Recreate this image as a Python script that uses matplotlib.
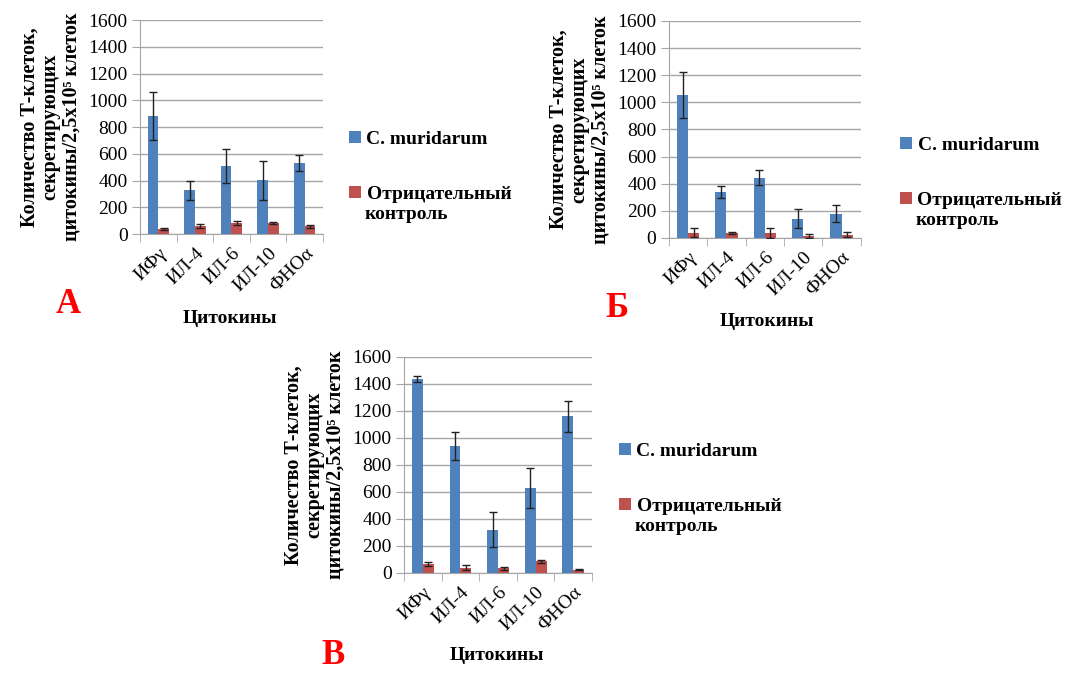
import matplotlib
matplotlib.use("Agg")
import matplotlib.pyplot as plt
import numpy as np

plt.rcParams["font.family"] = ["Liberation Serif", "DejaVu Serif"]

# ---------------------------------------------------------------------------
# Data
# ---------------------------------------------------------------------------
cytokines = ["ИФγ", "ИЛ-4", "ИЛ-6", "ИЛ-10", "ФНОα"]

a_mur = [880, 328, 509, 401, 529]
a_mur_err = [180, 72, 125, 145, 60]
a_neg = [38, 63, 83, 85, 58]
a_neg_err = [10, 15, 12, 8, 12]

b_mur = [1052, 336, 444, 143, 180]
b_mur_err = [170, 45, 55, 70, 65]
b_neg = [40, 37, 37, 17, 25]
b_neg_err = [30, 10, 35, 15, 18]

c_mur = [1440, 940, 319, 631, 1161]
c_mur_err = [22, 103, 130, 150, 115]
c_neg = [66, 39, 34, 86, 25]
c_neg_err = [18, 18, 10, 12, 5]

BLUE = "#4F81BD"
RED = "#C0504D"
GRID = "#A6A6A6"
FS = 14

fig = plt.figure(figsize=(10.72, 6.76), dpi=100)


def to_fig(px, py):
    return px / 1072, 1 - py / 676


def panel(rect, mur, mur_err, neg, neg_err, letter, letter_xy, xlabel_xy, legend_xy):
    ax = fig.add_axes(rect)
    x = np.arange(len(cytokines))
    w = 0.29
    ekw = dict(ecolor="#222222", elinewidth=1, capthick=1)
    ax.bar(x - w / 2, mur, w, color=BLUE, yerr=mur_err, capsize=3,
           error_kw=ekw, zorder=3, label="C. muridarum")
    ax.bar(x + w / 2, neg, w, color=RED, yerr=neg_err, capsize=3,
           error_kw=ekw, zorder=3, label="Отрицательный")
    ax.set_xlim(-0.5, len(cytokines) - 0.5)
    ax.set_ylim(0, 1600)
    ax.set_yticks(np.arange(0, 1601, 200))
    ax.yaxis.grid(True, color=GRID, linewidth=1, zorder=0)
    ax.set_axisbelow(True)
    for s in ["top", "right"]:
        ax.spines[s].set_visible(False)
    for s in ["left", "bottom"]:
        ax.spines[s].set_color(GRID)
    ax.tick_params(axis="y", length=6, color=GRID, labelsize=FS, pad=3)
    ax.set_xticks(x)
    ax.set_xticklabels(cytokines, rotation=45, ha="right", rotation_mode="anchor",
                       fontsize=FS)
    ax.tick_params(axis="x", which="major", length=0, pad=8)
    ax.set_xticks(np.arange(-0.5, len(cytokines)), minor=True)
    ax.tick_params(axis="x", which="minor", length=6, color=GRID)
    ax.set_ylabel("Количество Т-клеток,\nсекретирующих\nцитокины/2,5х10⁵ клеток",
                  fontsize=14.5, fontweight="bold", linespacing=1.05, labelpad=5)
    fig.text(*to_fig(*xlabel_xy), "Цитокины", fontsize=FS, fontweight="bold",
             ha="center", va="center")
    fig.text(*to_fig(*letter_xy), letter, fontsize=25, fontweight="bold",
             color="#FF0000", ha="center", va="center")
    leg = fig.legend(*ax.get_legend_handles_labels(), loc="upper left",
                     bbox_to_anchor=to_fig(*legend_xy), frameon=False,
                     prop=dict(size=FS, weight="bold"), handlelength=0.6,
                     handleheight=0.6, handletextpad=0.3, labelspacing=1.95,
                     borderpad=0, borderaxespad=0)
    # second line of the second legend label, left-aligned under the first
    fig.canvas.draw()
    t = leg.get_texts()[1]
    x0 = fig.transFigure.inverted().transform(t.get_window_extent().p0)[0]
    y0 = fig.transFigure.inverted().transform(leg.get_texts()[1].get_window_extent().p0)[1]
    fig.text(x0 - 1.5 / 1072, y0 - 3 / 676, "контроль", fontsize=FS,
             fontweight="bold", ha="left", va="top")
    return ax


panel([0.1306, 0.6538, 0.1707, 0.3166], a_mur, a_mur_err, a_neg, a_neg_err,
      "А", (68, 304), (230, 318), (349, 131))
panel([0.624, 0.648, 0.179, 0.321], b_mur, b_mur_err, b_neg, b_neg_err,
      "Б", (617, 309), (767, 321), (900, 137))
panel([0.3769, 0.1524, 0.1754, 0.3195], c_mur, c_mur_err, c_neg, c_neg_err,
      "В", (333, 656), (497, 656), (619, 443))

fig.savefig("out.png", dpi=100)
